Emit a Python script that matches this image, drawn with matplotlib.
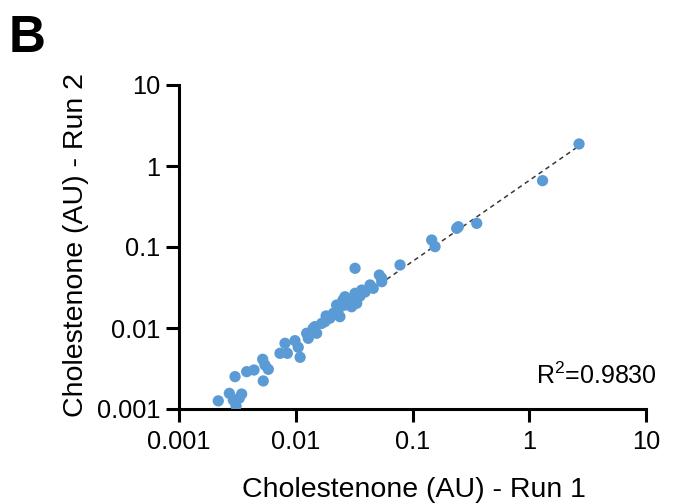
import numpy as np
import matplotlib
matplotlib.use("Agg")
import matplotlib.pyplot as plt
from matplotlib.ticker import FixedLocator, FixedFormatter, NullLocator

plt.rcParams['font.family'] = ['Liberation Sans', 'DejaVu Sans']
plt.rcParams['mathtext.fontset'] = 'custom'
plt.rcParams['mathtext.rm'] = 'Liberation Sans'
plt.rcParams['mathtext.it'] = 'Liberation Sans:italic'

run1 = [0.00217, 0.00270, 0.00292, 0.00308, 0.00328, 0.00344, 0.00302, 0.00380,
        0.00439, 0.00521, 0.00545, 0.00582, 0.00527, 0.00733, 0.00809, 0.00847,
        0.00985, 0.0105, 0.0109, 0.0124, 0.0128, 0.0141, 0.0146, 0.0151, 0.0167,
        0.0178, 0.0196, 0.0210, 0.0239, 0.0224, 0.0231, 0.0264, 0.0264, 0.0292,
        0.0301, 0.0333, 0.0322, 0.0367, 0.0433, 0.0461, 0.0520, 0.0545, 0.0545,
        0.0322, 0.0782, 0.146, 0.156, 0.239, 0.247, 0.355, 1.30, 2.67,
        0.0182, 0.0254, 0.0355, 0.0392]
run2 = [0.00126, 0.00156, 0.00129, 0.00109, 0.00136, 0.00153, 0.00251, 0.00289,
        0.00303, 0.00411, 0.00349, 0.00309, 0.00222, 0.00487, 0.00647, 0.00487,
        0.00697, 0.00578, 0.00435, 0.00861, 0.00746, 0.00991, 0.0104, 0.00861, 0.0114,
        0.0120, 0.0132, 0.0152, 0.0138, 0.0192, 0.0167, 0.0243, 0.0192, 0.0211,
        0.0183, 0.0202, 0.0268, 0.0294, 0.0340, 0.0309, 0.0451, 0.0373, 0.0411,
        0.0546, 0.0600, 0.122, 0.101, 0.170, 0.178, 0.196, 0.659, 1.87,
        0.0141, 0.0222, 0.0248, 0.0278]
tick_values = [0.001, 0.01, 0.1, 1, 10]
tick_labels = ["0.001", "0.01", "0.1", "1", "10"]
r2_text = "R$^{2}$=0.9830"
fit_start = 0.04

x = np.array(run1)
y = np.array(run2)

fig = plt.figure(figsize=(6.85, 5.04), dpi=100)
W, H = 685, 504
ax = fig.add_axes([179 / W, 1 - 409 / H, 467 / W, 324 / H])

k = np.sum(x * y) / np.sum(x * x)
xl = np.logspace(np.log10(fit_start), np.log10(x.max()), 100)
ax.plot(xl, k * xl, color='#383838', lw=1.1, ls=(0, (3, 2.5)), zorder=2)
ax.scatter(x, y, s=66, color='#5b9bd5', edgecolors='none', zorder=3)

ax.set_xscale('log')
ax.set_yscale('log')
ax.set_xlim(0.001, 10)
ax.set_ylim(0.001, 10)
for axis in (ax.xaxis, ax.yaxis):
    axis.set_major_locator(FixedLocator(tick_values))
    axis.set_major_formatter(FixedFormatter(tick_labels))
    axis.set_minor_locator(NullLocator())

for s in ('top', 'right'):
    ax.spines[s].set_visible(False)
for s in ('left', 'bottom'):
    ax.spines[s].set_linewidth(2.2)
ax.tick_params(axis='both', which='major', length=9.5, width=2.2,
               labelsize=18.3, color='black', labelcolor='black')
ax.tick_params(axis='x', pad=5.5)
ax.tick_params(axis='y', pad=4)

fig.text(414 / W, 1 - 497 / H, "Cholestenone (AU) - Run 1", fontsize=20.5,
         ha='center', va='baseline')
fig.text(83 / W, 1 - 245 / H, "Cholestenone (AU) - Run 2", fontsize=20.5,
         ha='center', va='baseline', rotation=90, rotation_mode='anchor')
fig.text(657 / W, 1 - 384 / H, r2_text, fontsize=18, ha='right', va='baseline')
fig.text(9 / W, 1 - 52 / H, "B", fontsize=37, fontweight='bold',
         ha='left', va='baseline')

fig.savefig("out.png", dpi=100)
